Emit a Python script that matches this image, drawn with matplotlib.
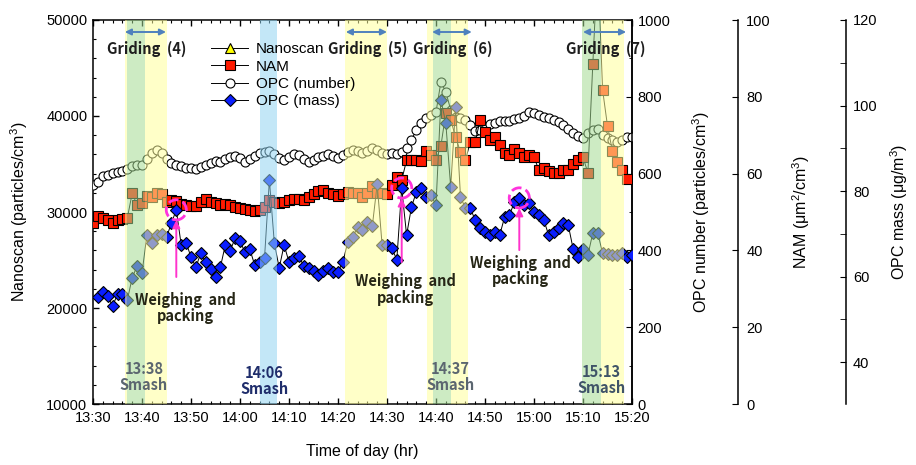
import numpy as np
import matplotlib.pyplot as plt
from matplotlib.ticker import MultipleLocator, FixedLocator

plt.rcParams['font.family'] = ['Liberation Sans', 'DejaVu Sans']
plt.rcParams['axes.linewidth'] = 1.1
plt.rcParams['mathtext.fontset'] = 'custom'
plt.rcParams['mathtext.rm'] = 'Liberation Sans'
plt.rcParams['mathtext.it'] = 'Liberation Sans:italic'
plt.rcParams['mathtext.bf'] = 'Liberation Sans:bold'

# time axis: minutes after 13:30
t_num = np.arange(0, 111)
opc_number = [570, 578, 594, 596, 602, 604, 607, 612, 620, 622,
              622, 638, 654, 661, 654, 638, 628, 622, 620, 615,
              615, 612, 617, 622, 628, 633, 630, 638, 643, 646,
              641, 630, 638, 646, 654, 656, 659, 651, 641, 635,
              643, 651, 648, 638, 630, 635, 643, 646, 651, 646,
              641, 648, 656, 661, 659, 654, 659, 667, 661, 654,
              651, 654, 651, 656, 667, 688, 714, 732, 745, 753,
              760, 839, 813, 766, 747, 745, 740, 727, 711, 714,
              721, 729, 732, 737, 737, 737, 742, 745, 750, 760,
              758, 753, 747, 745, 740, 734, 727, 716, 706, 698,
              693, 706, 714, 716, 701, 693, 688, 682, 688, 695, 695]

t_nam = np.arange(0, 110)
nam = [47.1, 49.0, 48.4, 47.9, 47.1, 47.9, 48.2, 48.4, 54.9, 51.8,
       52.3, 54.2, 53.9, 54.9, 54.7, 52.6, 53.1, 52.9, 52.1, 51.8,
       51.6, 51.6, 52.6, 53.4, 52.6, 52.3, 51.8, 52.1, 51.8, 51.3,
       51.0, 50.8, 50.5, 50.3, 50.5, 51.3, 53.1, 52.6, 52.3, 52.6,
       53.1, 53.4, 53.4, 53.1, 53.9, 54.7, 55.5, 55.7, 54.9, 54.7,
       54.2, 54.7, 55.2, 54.9, 54.9, 53.9, 54.9, 56.8, 54.9, 54.9,
       54.7, 57.0, 59.1, 58.3, 63.5, 63.5, 63.5, 63.3, 65.9, 64.8,
       63.5, 67.2, 75.8, 74.0, 69.5, 65.6, 63.5, 68.2, 68.2, 74.0,
       70.8, 68.8, 69.5, 67.4, 65.4, 64.8, 66.4, 65.4, 64.3, 64.8,
       64.3, 60.9, 61.5, 60.7, 60.2, 60.2, 60.9, 60.9, 62.5, 63.5,
       64.3, 60.2, 88.5, 115.0, 81.8, 72.4, 65.9, 63.0, 60.9, 58.6]

t_mass = np.arange(1, 111)
opc_mass = [55.2, 56.4, 55.4, 53.1, 55.9, 55.9, 54.5, 59.7, 62.5, 60.8,
            69.7, 67.9, 69.7, 69.9, 69.2, 72.5, 75.6, 67.4, 67.9, 64.6,
            62.2, 65.5, 63.4, 61.8, 59.9, 62.2, 67.4, 66.0, 69.0, 68.3,
            65.7, 66.4, 62.7, 63.4, 64.3, 82.6, 67.9, 62.0, 67.4, 63.4,
            64.3, 64.8, 62.5, 62.0, 61.3, 60.4, 61.3, 62.0, 61.1, 61.1,
            63.4, 68.1, 69.2, 71.6, 70.9, 72.8, 71.8, 81.6, 67.4, 67.4,
            66.7, 63.9, 80.7, 69.7, 76.3, 79.8, 80.7, 78.6, 79.1, 76.7,
            101.3, 95.9, 80.9, 99.7, 78.6, 76.0, 76.0, 73.2, 71.3, 70.4,
            69.7, 70.4, 69.7, 73.9, 74.4, 77.4, 78.4, 76.7, 77.2, 75.1,
            74.4, 73.2, 69.7, 70.4, 71.3, 72.5, 72.0, 66.4, 64.6, 66.4,
            65.0, 70.2, 70.2, 65.5, 65.3, 65.0, 65.0, 65.5, 64.6, 65.0]

t_nanoscan = []
nanoscan = []

x_ticks = [0, 10, 20, 30, 40, 50, 60, 70, 80, 90, 100, 110]
x_tick_labels = ['13:30', '13:40', '13:50', '14:00', '14:10', '14:20',
                 '14:30', '14:40', '14:50', '15:00', '15:10', '15:20']

# shaded periods (minutes after 13:30)
yellow_spans = [(6.5, 15.1), (51.4, 60.0), (68.2, 76.5), (99.8, 108.4)]
green_spans = [(6.9, 10.6), (69.4, 73.1), (99.8, 103.7)]
blue_spans = [(34.1, 37.6)]

griding = [('Griding  (4)', 6.5, 14.9), ('Griding  (5)', 51.6, 60.0),
           ('Griding  (6)', 69.2, 77.3), ('Griding  (7)', 100.0, 108.8)]
smash = [('13:38\nSmash', 10.4, 12800, '#5b6670'), ('14:06\nSmash', 34.9, 12400, '#1f2d6b'),
         ('14:37\nSmash', 72.9, 12800, '#5b6670'), ('15:13\nSmash', 103.7, 12500, '#3f5368')]
weighing = [(18.8, 20000), (63.7, 21900), (87.3, 23850)]
circled = [16, 62, 86]          # index into opc_mass
arrow_tail = [59.9, 63.4, 66.2]  # OPC mass units

fig = plt.figure(figsize=(9.16, 4.65), dpi=100)
ax = fig.add_axes([93 / 916, 61 / 465, 539 / 916, 384 / 465])
ax2 = ax.twinx()
ax3 = ax.twinx()
ax4 = ax.twinx()

line_kw = dict(color='black', lw=0.7, mew=0.8, mec='black')
h_nano, = ax.plot(t_nanoscan, nanoscan, marker='^', ms=7, mfc='#ffff00', label='Nanoscan', **line_kw)
h_num, = ax2.plot(t_num, opc_number, marker='o', ms=6.5, mfc='white', label='OPC (number)', **line_kw)
h_nam, = ax3.plot(t_nam, nam, marker='s', ms=7, mfc='#ff1a00', label='NAM', **line_kw)
h_mass, = ax4.plot(t_mass, opc_mass, marker='D', ms=6, mfc='#0a1eff', label='OPC (mass)', **line_kw)

# axes limits / ticks
ax.set_xlim(0, 110)
ax.set_ylim(10000, 50000)
ax.xaxis.set_major_locator(FixedLocator(x_ticks))
ax.set_xticklabels(x_tick_labels)
ax.xaxis.set_minor_locator(MultipleLocator(2))
ax.yaxis.set_major_locator(MultipleLocator(10000))
ax.yaxis.set_minor_locator(MultipleLocator(2000))
ax.tick_params(which='both', direction='in', top=True, labelsize=10.5)
ax.tick_params(which='major', length=4, width=1)
ax.tick_params(which='minor', length=2.5, width=0.8)
ax.tick_params(axis='y', pad=4)
ax.tick_params(axis='x', pad=5)

ax2.set_ylim(0, 1000)
ax2.yaxis.set_major_locator(MultipleLocator(200))
ax2.yaxis.set_minor_locator(MultipleLocator(100))
ax2.tick_params(which='both', direction='in', labelsize=10.5, pad=4)
ax2.tick_params(which='major', length=4)
ax2.tick_params(which='minor', length=2.5)

ax3.set_ylim(0, 100)
ax3.yaxis.set_major_locator(MultipleLocator(20))
ax3.tick_params(direction='in', length=4, labelsize=10.5, pad=6)
ax3.spines['right'].set_position(('axes', 1 + 106 / 539))

ax4.set_ylim(30.2, 120)
ax4.yaxis.set_major_locator(MultipleLocator(20))
ax4.yaxis.set_minor_locator(FixedLocator([50, 70, 90, 110]))
ax4.tick_params(which='both', direction='in', labelsize=10.5, pad=5)
ax4.tick_params(which='major', length=4)
ax4.tick_params(which='minor', length=4)
ax4.spines['right'].set_position(('axes', 1 + 214 / 539))

for a in (ax2, ax3, ax4):
    for sp in ('top', 'bottom', 'left'):
        a.spines[sp].set_visible(False)

ax.set_xlabel('Time of day (hr)', fontsize=11.5)
ax.xaxis.set_label_coords(0.5, -0.105)
ax.set_ylabel('Nanoscan (particles/cm$^3$)', fontsize=11.5)
ax.yaxis.set_label_coords(-0.117, 0.5)
ax2.set_ylabel('OPC number (particles/cm$^3$)', fontsize=11.5)
ax2.yaxis.set_label_coords(1.108, 0.5)
ax3.set_ylabel('NAM (μm$^2$/cm$^3$)', fontsize=11.5)
ax3.yaxis.set_label_coords(1.293, 0.5)
ax4.set_ylabel('OPC mass (μg/m$^3$)', fontsize=11.5)
ax4.yaxis.set_label_coords(1.476, 0.5)


def cut(span, holes):
    segs = [span]
    for g0, g1 in holes:
        new = []
        for a, b in segs:
            if g1 <= a or g0 >= b:
                new.append((a, b))
                continue
            if a < g0:
                new.append((a, g0))
            if g1 < b:
                new.append((g1, b))
        segs = new
    return segs


# shading drawn over the data (as in the original)
for span in yellow_spans:
    for a, b in cut(span, green_spans):
        ax4.axvspan(a, b, color='#ffff9b', alpha=0.55, lw=0, zorder=5)
for a, b in green_spans:
    ax4.axvspan(a, b, color='#a4db92', alpha=0.55, lw=0, zorder=5)
for a, b in blue_spans:
    ax4.axvspan(a, b, color='#92d5f2', alpha=0.55, lw=0, zorder=5)

ann_font = ['Noto Sans CJK KR', 'DejaVu Sans']
for label, x0, x1 in griding:
    ax4.annotate('', xy=(x1, 48750), xytext=(x0, 48750), xycoords=ax.transData,
                 arrowprops=dict(arrowstyle='<|-|>', color='#4f81bd', lw=1.4,
                                 mutation_scale=9, shrinkA=0, shrinkB=0), zorder=12)
    ax4.text((x0 + x1) / 2 + 0.2, 47000, label, transform=ax.transData, ha='center', va='center',
             fontsize=10.5, fontweight='bold', family=ann_font, color='#1e1e1e', zorder=12)

for label, x, y, c in smash:
    ax4.text(x, y, label, transform=ax.transData, ha='center', va='center', fontsize=10.5,
             fontweight='bold', family=ann_font, color=c, linespacing=1.0, zorder=12)

for x, y in weighing:
    ax4.text(x, y, 'Weighing  and\npacking', transform=ax.transData, ha='center', va='center',
             fontsize=10.5, fontweight='bold', family=ann_font, color='#262616',
             linespacing=1.05, zorder=12)

for i, tail in zip(circled, arrow_tail):
    ax4.scatter([t_mass[i]], [opc_mass[i]], s=210, facecolors='none', edgecolors='#ff33dd',
                linestyles='--', linewidths=2, zorder=11)
    ax4.annotate('', xy=(t_mass[i], opc_mass[i] - 2.4), xytext=(t_mass[i], tail),
                 arrowprops=dict(arrowstyle='-|>', color='#ff33cc', lw=1.4,
                                 mutation_scale=11, shrinkA=0, shrinkB=0), zorder=11)

leg = ax4.legend([h_nano, h_nam, h_num, h_mass], ['Nanoscan', 'NAM', 'OPC (number)', 'OPC (mass)'],
                 loc='upper left', bbox_to_anchor=(199 / 916, 1 - 30 / 465),
                 bbox_transform=fig.transFigure, frameon=False, fontsize=11,
                 handlelength=2.4, handletextpad=0.5, labelspacing=0.22, borderpad=0.3)
leg.set_zorder(13)

fig.savefig('out.png', dpi=100)
